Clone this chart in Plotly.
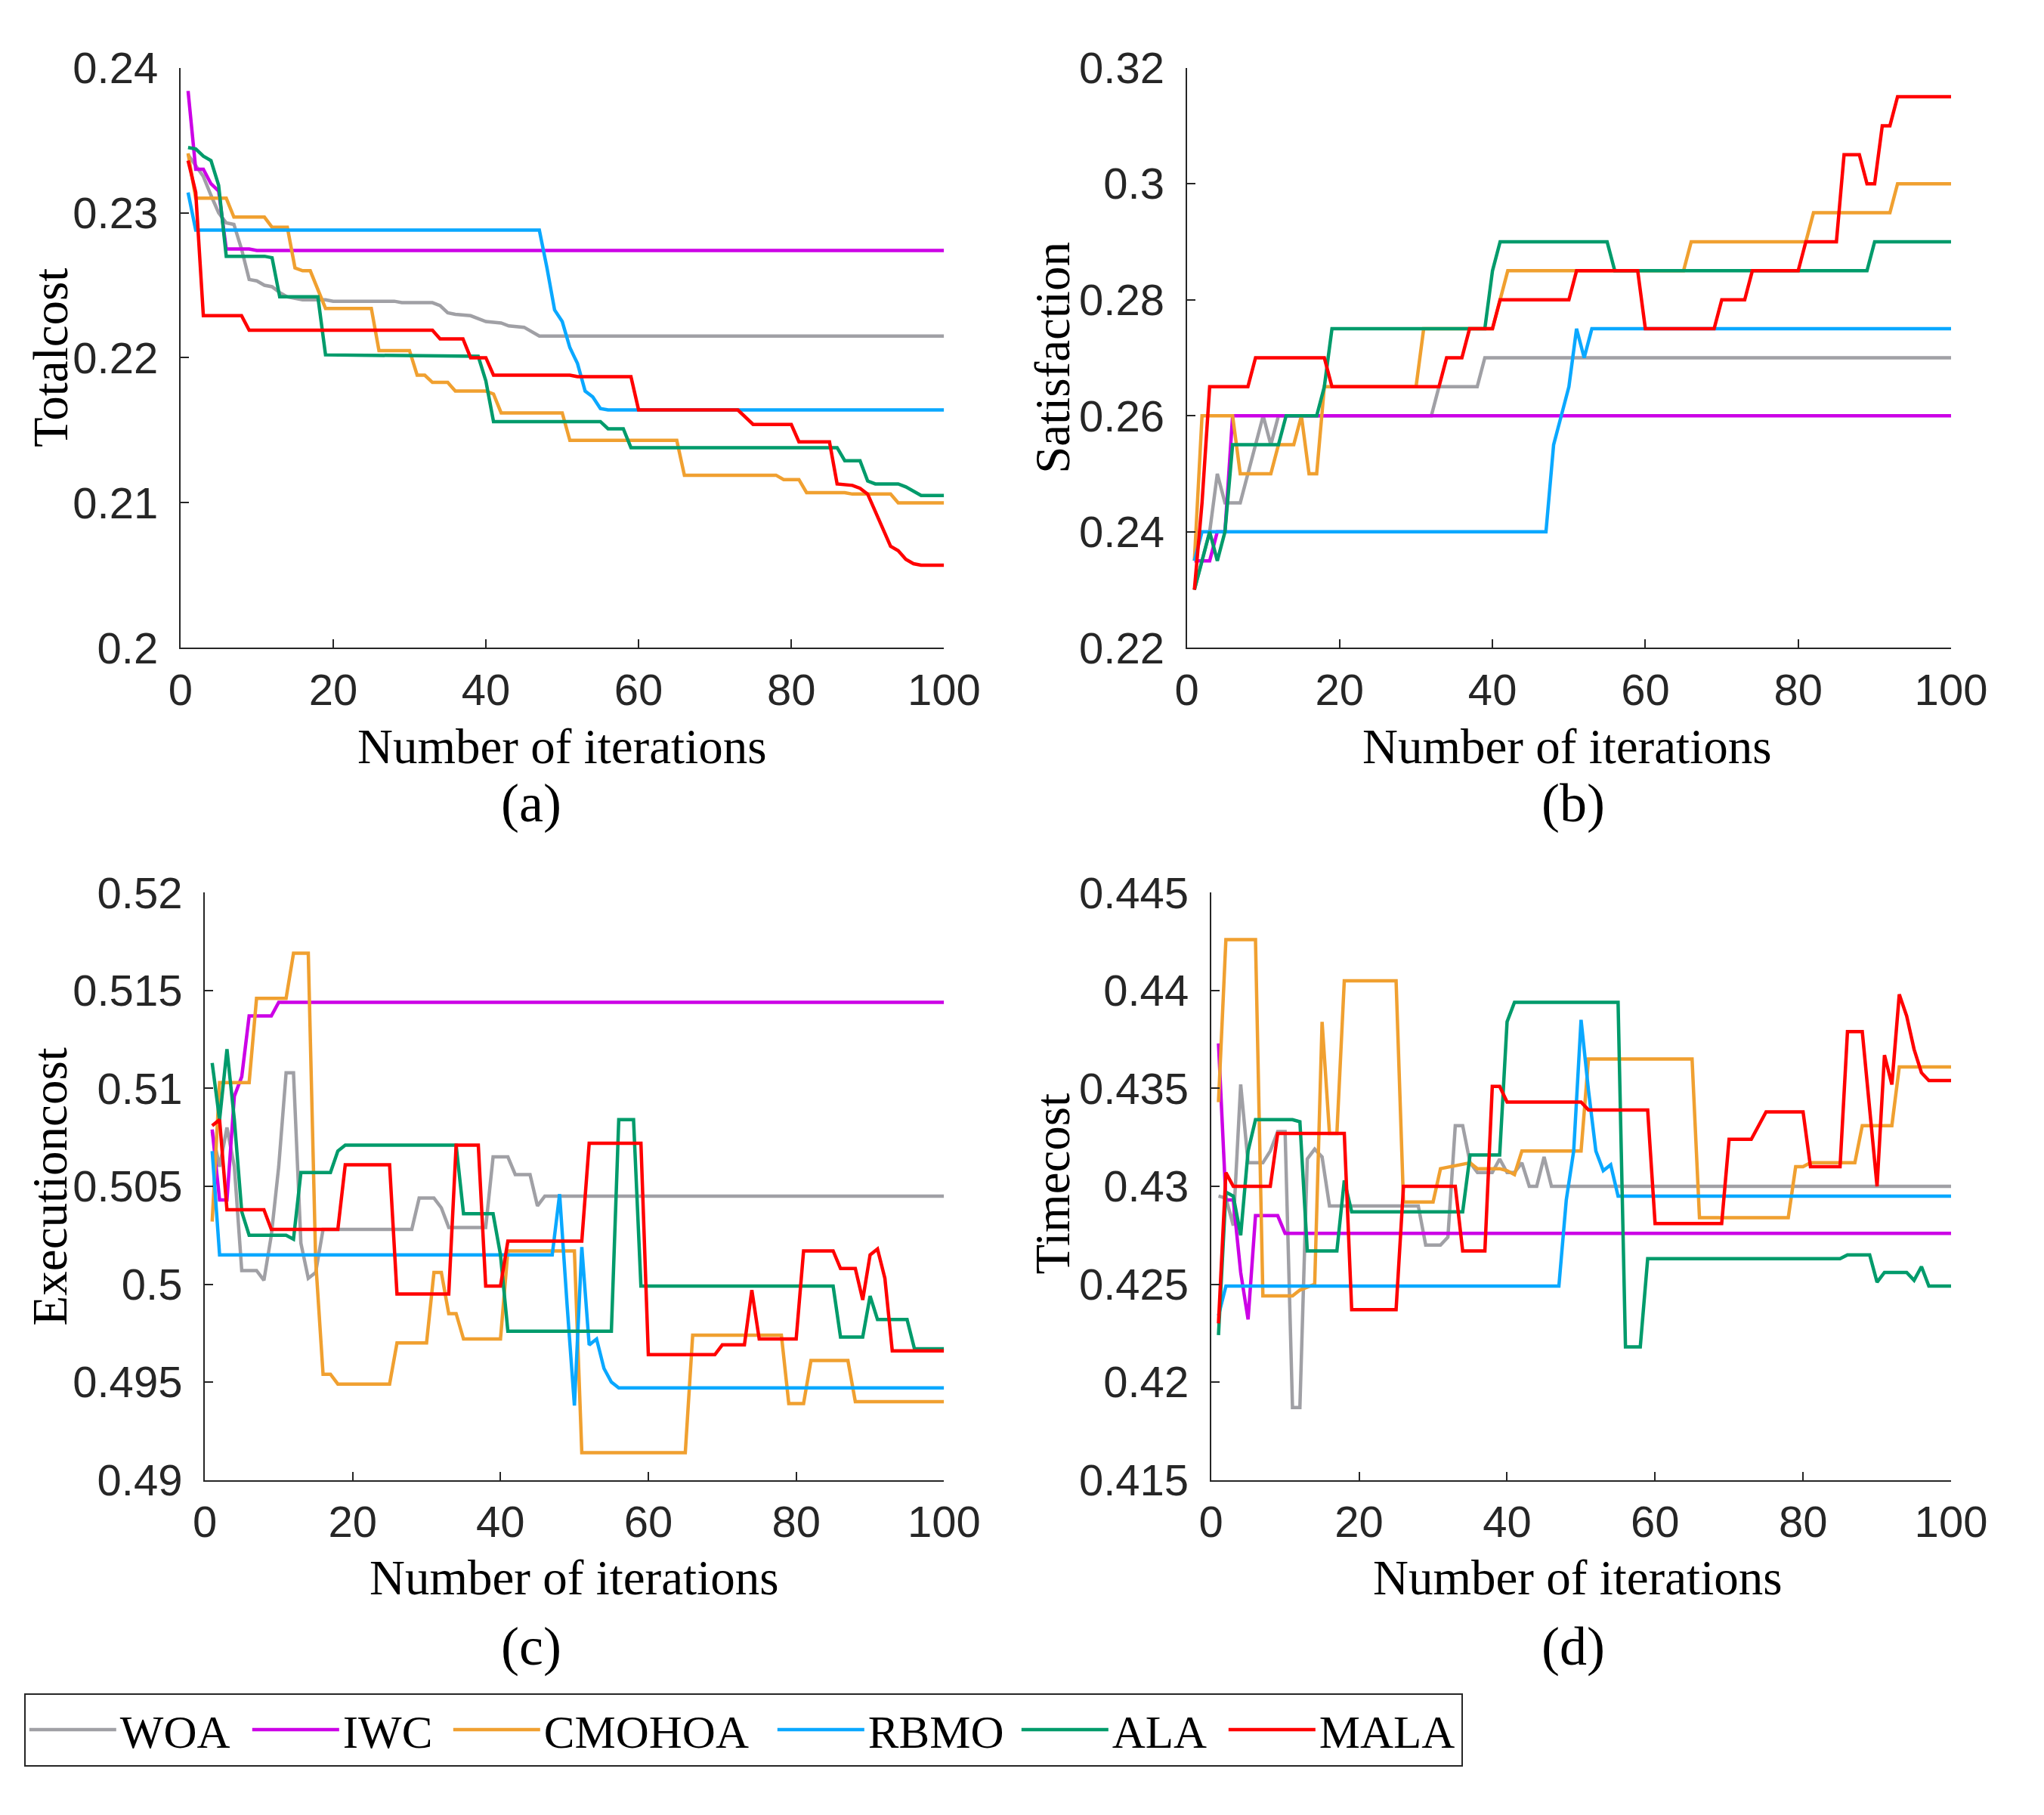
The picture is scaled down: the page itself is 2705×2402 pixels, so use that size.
import plotly.graph_objects as go

W, H = 2705, 2402
OFF = 8  # the page body margin pushes the figure 8 px right and down

names = ["WOA", "IWC", "CMOHOA", "RBMO", "ALA", "MALA"]
colors = ["#A0A0A5", "#CC00E6", "#F0A030", "#0AA8FF", "#009B6B", "#FF0000"]
legend_widths = [165, 136, 299, 193, 144, 183]

# ---------------- (a) Totalcost ----------------
woa_tc_it = [1, 3, 4, 5, 6, 7, 8, 9, 10, 11, 12, 13, 14, 16, 19, 20, 28, 29, 33, 34, 35, 36, 38, 39, 40, 42, 43, 45, 46, 47, 100]
woa_tc = [0.2340, 0.2325, 0.2312, 0.2300, 0.2293, 0.2292, 0.2275, 0.2254, 0.2253, 0.2250, 0.2249, 0.2245, 0.2242, 0.2240, 0.2240, 0.2239,
          0.2239, 0.2238, 0.2238, 0.2236, 0.2231, 0.2230, 0.2229, 0.2227, 0.2225, 0.2224, 0.2222, 0.2221, 0.2218, 0.2215, 0.2215]
iwc_tc_it = [1, 2, 3, 4, 5, 6, 9, 10, 100]
iwc_tc = [0.2384, 0.2330, 0.2330, 0.2320, 0.2315, 0.2275, 0.2275, 0.2274, 0.2274]
cmo_tc_it = [1, 2, 6, 7, 11, 12, 14, 15, 16, 17, 19, 25, 26, 30, 31, 32, 33, 35, 36, 40, 41, 42, 50, 51, 65, 66, 78, 79, 81, 82, 87, 88, 93, 94, 100]
cmo_tc = [0.2341, 0.2310, 0.2310, 0.2297, 0.2297, 0.2290, 0.2290, 0.2262, 0.2260, 0.2260, 0.2234, 0.2234, 0.2205, 0.2205, 0.2188, 0.2188,
          0.2183, 0.2183, 0.2177, 0.2177, 0.2175, 0.2162, 0.2162, 0.2143, 0.2143, 0.2119, 0.2119, 0.2116, 0.2116, 0.2107, 0.2107, 0.2106,
          0.2106, 0.2100, 0.2100]
rbmo_tc_it = [1, 2, 47, 48, 49, 50, 51, 52, 53, 54, 55, 56, 100]
rbmo_tc = [0.2314, 0.2288, 0.2288, 0.2262, 0.2233, 0.2225, 0.2207, 0.2196, 0.2177, 0.2173, 0.2165, 0.2164, 0.2164]
ala_tc_it = [1, 2, 3, 4, 5, 6, 11, 12, 13, 18, 19, 35, 39, 40, 41, 55, 56, 58, 59, 86, 87, 89, 90, 91, 94, 95, 96, 97, 100]
ala_tc = [0.2345, 0.2344, 0.2339, 0.2336, 0.2319, 0.2270, 0.2270, 0.2269, 0.2242, 0.2242, 0.2202, 0.2201, 0.2201, 0.2184, 0.2156,
          0.2156, 0.2151, 0.2151, 0.2138, 0.2138, 0.2129, 0.2129, 0.2115, 0.2113, 0.2113, 0.2111, 0.2108, 0.2105, 0.2105]
mala_tc_it = [1, 2, 3, 8, 9, 33, 34, 37, 38, 40, 41, 51, 52, 59, 60, 73, 75, 80, 81, 85, 86, 88, 89, 90, 91, 92, 93, 94, 95, 96, 97, 100]
mala_tc = [0.2336, 0.2314, 0.2229, 0.2229, 0.2219, 0.2219, 0.2213, 0.2213, 0.2200, 0.2200, 0.2188, 0.2188, 0.2187, 0.2187, 0.2164,
           0.2164, 0.2154, 0.2154, 0.2142, 0.2142, 0.2113, 0.2112, 0.2110, 0.2106, 0.2094, 0.2082, 0.2070, 0.2067, 0.2061, 0.2058,
           0.2057, 0.2057]

# ---------------- (b) Satisfaction ----------------
woa_sat_it = [1, 2, 3, 4, 5, 7, 8, 9, 10, 11, 12, 32, 33, 38, 39, 100]
woa_sat = [0.230, 0.235, 0.240, 0.250, 0.245, 0.245, 0.250, 0.255, 0.260, 0.255, 0.260, 0.260, 0.265, 0.265, 0.270, 0.270]
iwc_sat_it = [1, 3, 4, 5, 6, 100]
iwc_sat = [0.235, 0.235, 0.240, 0.240, 0.260, 0.260]
cmo_sat_it = [1, 2, 6, 7, 11, 12, 14, 15, 16, 17, 18, 30, 31, 40, 42, 65, 66, 81, 82, 92, 93, 100]
cmo_sat = [0.235, 0.260, 0.260, 0.250, 0.250, 0.255, 0.255, 0.260, 0.250, 0.250, 0.265, 0.265, 0.275, 0.275, 0.285, 0.285,
           0.290, 0.290, 0.295, 0.295, 0.300, 0.300]
rbmo_sat_it = [1, 2, 47, 48, 49, 50, 51, 52, 53, 100]
rbmo_sat = [0.235, 0.240, 0.240, 0.255, 0.260, 0.265, 0.275, 0.270, 0.275, 0.275]
ala_sat_it = [1, 2, 3, 4, 5, 6, 12, 13, 17, 18, 19, 39, 40, 41, 55, 56, 89, 90, 100]
ala_sat = [0.230, 0.235, 0.240, 0.235, 0.240, 0.255, 0.255, 0.260, 0.260, 0.265, 0.275, 0.275, 0.285, 0.290, 0.290, 0.285,
           0.285, 0.290, 0.290]
mala_sat_it = [1, 2, 3, 8, 9, 17, 18, 19, 33, 34, 36, 37, 40, 41, 50, 51, 59, 60, 69, 70, 73, 74, 80, 81, 85, 86, 88, 89, 90, 91, 92, 93, 100]
mala_sat = [0.230, 0.245, 0.265, 0.265, 0.270, 0.270, 0.270, 0.265, 0.265, 0.270, 0.270, 0.275, 0.275, 0.280, 0.280, 0.285,
            0.285, 0.275, 0.275, 0.280, 0.280, 0.285, 0.285, 0.290, 0.290, 0.305, 0.305, 0.300, 0.300, 0.310, 0.310, 0.315, 0.315]

# ---------------- (c) Executioncost ----------------
woa_ec_it = [1, 2, 3, 4, 5, 7, 8, 9, 10, 11, 12, 13, 14, 15, 16, 28, 29, 31, 32, 33, 38, 39, 41, 42, 44, 45, 46, 100]
woa_ec = [0.5078, 0.5060, 0.5080, 0.5060, 0.5007, 0.5007, 0.5002, 0.5025, 0.5060, 0.5108, 0.5108, 0.5021, 0.5003, 0.5006,
          0.5028, 0.5028, 0.5044, 0.5044, 0.5039, 0.5029, 0.5029, 0.5065, 0.5065, 0.5056, 0.5056, 0.5040, 0.5045, 0.5045]
iwc_ec_it = [1, 2, 3, 4, 5, 6, 9, 10, 100]
iwc_ec = [0.5079, 0.5043, 0.5043, 0.5096, 0.5106, 0.5137, 0.5137, 0.5144, 0.5144]
cmo_ec_it = [1, 2, 6, 7, 11, 12, 14, 15, 16, 17, 18, 25, 26, 30, 31, 32, 33, 34, 35, 40, 41, 50, 51, 65, 66, 78, 79, 81, 82, 87, 88, 100]
cmo_ec = [0.5032, 0.5103, 0.5103, 0.5146, 0.5146, 0.5169, 0.5169, 0.5012, 0.4954, 0.4954, 0.4949, 0.4949, 0.4970, 0.4970,
          0.5006, 0.5006, 0.4985, 0.4985, 0.4972, 0.4972, 0.5017, 0.5017, 0.4914, 0.4914, 0.4974, 0.4974, 0.4939, 0.4939,
          0.4961, 0.4961, 0.4940, 0.4940]
rbmo_ec_it = [1, 2, 47, 48, 49, 50, 51, 52, 53, 54, 55, 56, 100]
rbmo_ec = [0.5068, 0.5015, 0.5015, 0.5046, 0.4990, 0.4938, 0.5019, 0.4969, 0.4972, 0.4957, 0.4950, 0.4947, 0.4947]
ala_ec_it = [1, 2, 3, 4, 5, 6, 11, 12, 13, 17, 18, 19, 34, 35, 38, 39, 40, 41, 55, 56, 58, 59, 85, 86, 89, 90, 91, 95, 96, 100]
ala_ec = [0.5113, 0.5084, 0.5120, 0.5084, 0.5037, 0.5025, 0.5025, 0.5023, 0.5057, 0.5057, 0.5068, 0.5071, 0.5071, 0.5036,
          0.5036, 0.5036, 0.5015, 0.4976, 0.4976, 0.5084, 0.5084, 0.4999, 0.4999, 0.4973, 0.4973, 0.4994, 0.4982, 0.4982,
          0.4967, 0.4967]
mala_ec_it = [1, 2, 3, 8, 9, 18, 19, 25, 26, 33, 34, 37, 38, 40, 41, 51, 52, 59, 60, 69, 70, 73, 74, 75, 80, 81, 85, 86, 88, 89, 90, 91, 92, 93, 100]
mala_ec = [0.5081, 0.5084, 0.5038, 0.5038, 0.5028, 0.5028, 0.5061, 0.5061, 0.4995, 0.4995, 0.5071, 0.5071, 0.4999, 0.4999,
           0.5022, 0.5022, 0.5072, 0.5072, 0.4964, 0.4964, 0.4969, 0.4969, 0.4997, 0.4972, 0.4972, 0.5017, 0.5017, 0.5008,
           0.5008, 0.4992, 0.5015, 0.5018, 0.5003, 0.4966, 0.4966]

# ---------------- (d) Timecost ----------------
woa_tm_it = [1, 2, 3, 4, 5, 7, 8, 9, 10, 11, 12, 13, 14, 15, 16, 28, 29, 31, 32, 33, 34, 35, 36, 38, 39, 40, 41, 42, 43, 44, 45, 46, 100]
woa_tm = [0.4295, 0.4294, 0.4280, 0.4352, 0.4312, 0.4312, 0.4318, 0.4328, 0.4328, 0.4187, 0.4187, 0.4314, 0.4319, 0.4315,
          0.4290, 0.4290, 0.4270, 0.4270, 0.4274, 0.4331, 0.4331, 0.4312, 0.4307, 0.4307, 0.4314, 0.4307, 0.4307, 0.4312,
          0.4300, 0.4300, 0.4315, 0.4300, 0.4300]
iwc_tm_it = [1, 2, 3, 4, 5, 6, 9, 10, 100]
iwc_tm = [0.4373, 0.4293, 0.4293, 0.4256, 0.4232, 0.4285, 0.4285, 0.4276, 0.4276]
cmo_tm_it = [1, 2, 6, 7, 11, 12, 14, 15, 16, 17, 18, 25, 26, 30, 31, 35, 36, 39, 40, 41, 42, 50, 51, 65, 66, 78, 79, 80, 81, 87, 88, 92, 93, 100]
cmo_tm = [0.4343, 0.4426, 0.4426, 0.4244, 0.4244, 0.4247, 0.4250, 0.4384, 0.4327, 0.4327, 0.4405, 0.4405, 0.4292, 0.4292,
          0.4309, 0.4312, 0.4309, 0.4309, 0.4308, 0.4306, 0.4318, 0.4318, 0.4365, 0.4365, 0.4284, 0.4284, 0.4310, 0.4310,
          0.4312, 0.4312, 0.4331, 0.4331, 0.4361, 0.4361]
rbmo_tm_it = [1, 2, 47, 48, 49, 50, 51, 52, 53, 54, 55, 100]
rbmo_tm = [0.4234, 0.4249, 0.4249, 0.4293, 0.4318, 0.4385, 0.4349, 0.4318, 0.4308, 0.4311, 0.4295, 0.4295]
ala_tm_it = [1, 2, 3, 4, 5, 6, 11, 12, 13, 17, 18, 19, 34, 35, 39, 40, 41, 55, 56, 58, 59, 85, 86, 89, 90, 91, 94, 95, 96, 97, 100]
ala_tm = [0.4224, 0.4297, 0.4295, 0.4275, 0.4318, 0.4334, 0.4334, 0.4333, 0.4267, 0.4267, 0.4303, 0.4287, 0.4287, 0.4316,
          0.4316, 0.4384, 0.4394, 0.4394, 0.4218, 0.4218, 0.4263, 0.4263, 0.4265, 0.4265, 0.4251, 0.4256, 0.4256, 0.4252,
          0.4259, 0.4249, 0.4249]
mala_tm_it = [1, 2, 3, 8, 9, 18, 19, 25, 26, 33, 34, 37, 38, 39, 40, 50, 51, 59, 60, 69, 70, 73, 75, 80, 81, 85, 86, 88, 90, 91, 92, 93, 94, 95, 96, 97, 100]
mala_tm = [0.4230, 0.4307, 0.4300, 0.4300, 0.4327, 0.4327, 0.4237, 0.4237, 0.4300, 0.4300, 0.4267, 0.4267, 0.4351, 0.4351,
           0.4343, 0.4343, 0.4339, 0.4339, 0.4281, 0.4281, 0.4324, 0.4324, 0.4338, 0.4338, 0.4310, 0.4310, 0.4379, 0.4379,
           0.4300, 0.4367, 0.4352, 0.4398, 0.4387, 0.4370, 0.4358, 0.4354, 0.4354]

# axis ticks
x_ticks = [0, 20, 40, 60, 80, 100]
tc_ticks = [0.2, 0.21, 0.22, 0.23, 0.24]
tc_labels = ["0.2", "0.21", "0.22", "0.23", "0.24"]
sat_ticks = [0.22, 0.24, 0.26, 0.28, 0.3, 0.32]
sat_labels = ["0.22", "0.24", "0.26", "0.28", "0.3", "0.32"]
ec_ticks = [0.49, 0.495, 0.5, 0.505, 0.51, 0.515, 0.52]
ec_labels = ["0.49", "0.495", "0.5", "0.505", "0.51", "0.515", "0.52"]
tm_ticks = [0.415, 0.42, 0.425, 0.43, 0.435, 0.44, 0.445]
tm_labels = ["0.415", "0.42", "0.425", "0.43", "0.435", "0.44", "0.445"]

panels = [
    ("x", "y", [(woa_tc_it, woa_tc), (iwc_tc_it, iwc_tc), (cmo_tc_it, cmo_tc),
                (rbmo_tc_it, rbmo_tc), (ala_tc_it, ala_tc), (mala_tc_it, mala_tc)]),
    ("x2", "y2", [(woa_sat_it, woa_sat), (iwc_sat_it, iwc_sat), (cmo_sat_it, cmo_sat),
                  (rbmo_sat_it, rbmo_sat), (ala_sat_it, ala_sat), (mala_sat_it, mala_sat)]),
    ("x3", "y3", [(woa_ec_it, woa_ec), (iwc_ec_it, iwc_ec), (cmo_ec_it, cmo_ec),
                  (rbmo_ec_it, rbmo_ec), (ala_ec_it, ala_ec), (mala_ec_it, mala_ec)]),
    ("x4", "y4", [(woa_tm_it, woa_tm), (iwc_tm_it, iwc_tm), (cmo_tm_it, cmo_tm),
                  (rbmo_tm_it, rbmo_tm), (ala_tm_it, ala_tm), (mala_tm_it, mala_tm)]),
]

fig = go.Figure()
for p, (xa, ya, series) in enumerate(panels):
    for i, (it, vals) in enumerate(series):
        fig.add_trace(go.Scatter(
            x=it, y=vals, xaxis=xa, yaxis=ya, mode="lines",
            name=names[i], showlegend=(p == 0), legendwidth=legend_widths[i],
            line=dict(color=colors[i], width=4.5),
        ))

AX = "#262626"
TICKFONT = dict(family="Liberation Sans, Arial", size=58, color=AX)
SERIF = "Liberation Serif, Times New Roman"


def px(v):
    return (v - OFF) / W


def py(v):
    return 1 - (v - OFF) / H


def xax(x0, x1, anchor):
    return dict(domain=[px(x0), px(x1)], anchor=anchor, range=[0, 100], tickvals=x_ticks,
                ticks="inside", ticklen=11, tickwidth=2, tickcolor=AX, showline=True,
                linecolor=AX, linewidth=2, showgrid=False, zeroline=False,
                tickfont=TICKFONT, ticklabelstandoff=4)


def yax(y0, y1, anchor, rng, tv, tt):
    return dict(domain=[py(y1), py(y0)], anchor=anchor, range=rng, tickvals=tv, ticktext=tt,
                ticks="inside", ticklen=11, tickwidth=2, tickcolor=AX, showline=True,
                linecolor=AX, linewidth=2, showgrid=False, zeroline=False,
                tickfont=TICKFONT, ticklabelstandoff=16)


top0, top1 = 58, 847
bot0, bot1 = 1180, 1979

annotations = []


def label(text, x, y, size, angle=0):
    annotations.append(dict(text=text, x=px(x), y=py(y), xref="paper", yref="paper",
                            xanchor="center", yanchor="middle", showarrow=False, textangle=angle,
                            font=dict(family=SERIF, size=size, color="black")))


label("Number of iterations", 745, 981, 65)
label("Number of iterations", 2108, 981, 65)
label("Number of iterations", 762, 2112, 65)
label("Number of iterations", 2122, 2112, 65)
label("Totalcost", 52, 452, 65, -90)
label("Satisfaction", 1410, 452, 65, -90)
label("Executioncost", 52, 1580, 65, -90)
label("Timecost", 1410, 1576, 65, -90)
label("(a)", 703, 1058, 72)
label("(b)", 2116, 1058, 72)
label("(c)", 703, 2205, 72)
label("(d)", 2116, 2205, 72)

fig.update_layout(
    width=W, height=H,
    margin=dict(l=0, r=0, t=0, b=0),
    paper_bgcolor="white", plot_bgcolor="white",
    xaxis=xax(228, 1263, "y"), yaxis=yax(top0, top1, "x", [0.2, 0.24], tc_ticks, tc_labels),
    xaxis2=xax(1592, 2628, "y2"), yaxis2=yax(top0, top1, "x2", [0.22, 0.32], sat_ticks, sat_labels),
    xaxis3=xax(261, 1263, "y3"), yaxis3=yax(bot0, bot1, "x3", [0.49, 0.52], ec_ticks, ec_labels),
    xaxis4=xax(1625, 2628, "y4"), yaxis4=yax(bot0, bot1, "x4", [0.415, 0.445], tm_ticks, tm_labels),
    annotations=annotations,
    showlegend=True,
    legend=dict(orientation="h", x=px(16), y=py(2319), xanchor="left", yanchor="middle",
                bordercolor=AX, borderwidth=2, bgcolor="white", itemwidth=115,
                font=dict(family=SERIF, size=61, color="black")),
)

fig.write_html("out.html")
